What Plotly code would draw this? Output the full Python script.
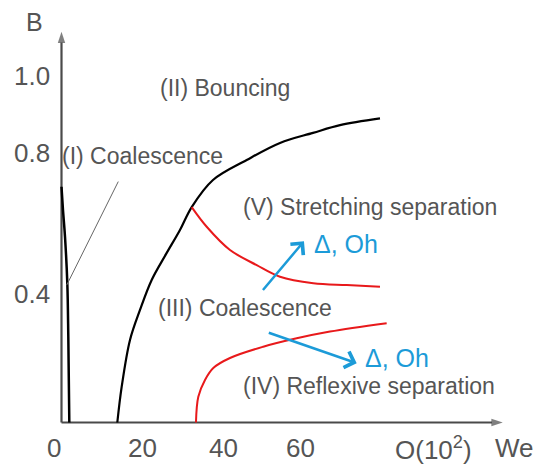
import plotly.graph_objects as go

# ---------------- data (schematic regime map, We vs B) ----------------
# Boundary of regime (I) coalescence (near the B axis)
we_I = [0.0, 0.37, 0.87, 1.44, 1.69, 1.94]
b_I = [0.731, 0.659, 0.576, 0.433, 0.266, 0.0]

# Boundary of regime (II) bouncing
we_bounce = [13.85, 14.94, 17.0, 19.48, 22.38, 25.93, 29.40, 32.31, 37.59, 45.96, 54.22, 62.41, 69.11, 79.03]
b_bounce = [0.0, 0.111, 0.256, 0.349, 0.442, 0.522, 0.597, 0.668, 0.752, 0.814, 0.867, 0.898, 0.922, 0.943]

# Boundary between (III) coalescence and (V) stretching separation
we_stretch = [32.31, 36.03, 41.81, 48.44, 54.22, 62.48, 70.77, 79.03]
b_stretch = [0.668, 0.607, 0.535, 0.488, 0.452, 0.432, 0.426, 0.421]

# Boundary between (III) coalescence and (IV) reflexive separation
we_reflex = [33.37, 33.95, 35.61, 37.67, 41.81, 50.07, 58.36, 66.63, 80.69]
b_reflex = [0.0, 0.080, 0.132, 0.169, 0.200, 0.235, 0.261, 0.282, 0.308]

# Trend arrows (increasing Delta, Oh): [start, end]
arrow_up_we = [49.68, 60.17]
arrow_up_b = [0.406, 0.562]
arrow_down_we = [51.07, 73.25]
arrow_down_b = [0.280, 0.184]

# Leader line pointing to regime (I)
leader_we = [14.09, 1.29]
leader_b = [0.747, 0.426]

# Axis ticks
x_tick_vals = [-1.9, 20.2, 40.1, 59.2, 92.4]
x_tick_text = ["0", "20", "40", "60", "O(10<sup>2</sup>)"]
y_tick_vals = [0.4, 0.836, 1.074]
y_tick_text = ["0.4", "0.8", "1.0"]

# Region labels
region_text = ["(II) Bouncing", "(I) Coalescence", "(V) Stretching separation",
               "(III) Coalescence", "(IV) Reflexive separation"]
region_we = [40.57, 20.22, 76.55, 45.53, 76.3]
region_b = [1.037, 0.826, 0.668, 0.355, 0.114]
region_size = [23, 23, 23, 23, 23]

trend_text = ["Δ, Oh", "Δ, Oh"]
trend_we = [70.6, 83.37]
trend_b = [0.553, 0.200]

# Axis extents
x_axis_end = 109.5
y_axis_end = 1.212

# ---------------- figure ----------------
FONT = "Liberation Sans, Arial, sans-serif"
GRAY = "#555555"
AXIS = "#4a4a4a"
BLUE = "#1C9BD8"

fig = go.Figure()

# axes drawn as arrows (line + arrow marker oriented along the line)
fig.add_trace(go.Scatter(x=[0, x_axis_end], y=[0, 0], mode="lines+markers",
                         line=dict(color=AXIS, width=2.2),
                         marker=dict(symbol=["circle", "arrow"], size=[0, 12], color=AXIS,
                                     angleref="previous", line=dict(width=0)),
                         hoverinfo="skip"))
fig.add_trace(go.Scatter(x=[0, 0], y=[0, y_axis_end], mode="lines+markers",
                         line=dict(color=AXIS, width=2.2),
                         marker=dict(symbol=["circle", "arrow"], size=[0, 12], color=AXIS,
                                     angleref="previous", line=dict(width=0)),
                         hoverinfo="skip"))

fig.add_trace(go.Scatter(x=we_I, y=b_I, mode="lines", line=dict(color="black", width=2.5, shape="spline"),
                         hoverinfo="skip"))
fig.add_trace(go.Scatter(x=we_bounce, y=b_bounce, mode="lines",
                         line=dict(color="black", width=2.2, shape="spline", smoothing=1.0), hoverinfo="skip"))
fig.add_trace(go.Scatter(x=we_stretch, y=b_stretch, mode="lines",
                         line=dict(color="#E8191B", width=2, shape="spline", smoothing=1.0), hoverinfo="skip"))
fig.add_trace(go.Scatter(x=we_reflex, y=b_reflex, mode="lines",
                         line=dict(color="#E8191B", width=2, shape="spline", smoothing=1.0), hoverinfo="skip"))
fig.add_trace(go.Scatter(x=leader_we, y=leader_b, mode="lines", line=dict(color="#666666", width=1),
                         hoverinfo="skip"))

annotations = []
# trend arrows (chevron heads)
for xs, ys in [(arrow_up_we, arrow_up_b), (arrow_down_we, arrow_down_b)]:
    annotations.append(dict(x=xs[1], y=ys[1], ax=xs[0], ay=ys[0], xref="x", yref="y", axref="x", ayref="y",
                            text="", showarrow=True, arrowhead=4, arrowsize=1.3, arrowwidth=2.5,
                            arrowcolor=BLUE, standoff=0))
# tick labels
for v, t in zip(x_tick_vals, x_tick_text):
    annotations.append(dict(x=v, y=-0.08, xref="x", yref="y", text=t, showarrow=False,
                            font=dict(family=FONT, size=26, color=GRAY), xanchor="center", yanchor="middle"))
annotations.append(dict(x=112.3, y=-0.08, xref="x", yref="y", text="We", showarrow=False,
                        font=dict(family=FONT, size=26, color=GRAY), xanchor="center", yanchor="middle"))
for v, t in zip(y_tick_vals, y_tick_text):
    annotations.append(dict(x=-2.3, y=v, xref="x", yref="y", text=t, showarrow=False,
                            font=dict(family=FONT, size=26, color=GRAY), xanchor="right", yanchor="middle"))
annotations.append(dict(x=-6.6, y=1.243, xref="x", yref="y", text="B", showarrow=False,
                        font=dict(family=FONT, size=25, color=GRAY), xanchor="center", yanchor="middle"))
# region labels
for t, xv, yv, s in zip(region_text, region_we, region_b, region_size):
    annotations.append(dict(x=xv, y=yv, xref="x", yref="y", text=t, showarrow=False,
                            font=dict(family=FONT, size=s, color=GRAY), xanchor="center", yanchor="middle"))
for t, xv, yv in zip(trend_text, trend_we, trend_b):
    annotations.append(dict(x=xv, y=yv, xref="x", yref="y", text=t, showarrow=False,
                            font=dict(family=FONT, size=25, color=BLUE), xanchor="center", yanchor="middle"))

fig.update_layout(
    width=534, height=466,
    margin=dict(l=0, r=0, t=0, b=0),
    paper_bgcolor="white", plot_bgcolor="white",
    showlegend=False,
    xaxis=dict(range=[-15.26, 117.25], visible=False, fixedrange=True),
    yaxis=dict(range=[-0.1349, 1.3101], visible=False, fixedrange=True),
    annotations=annotations,
)

fig.write_html("out.html")
